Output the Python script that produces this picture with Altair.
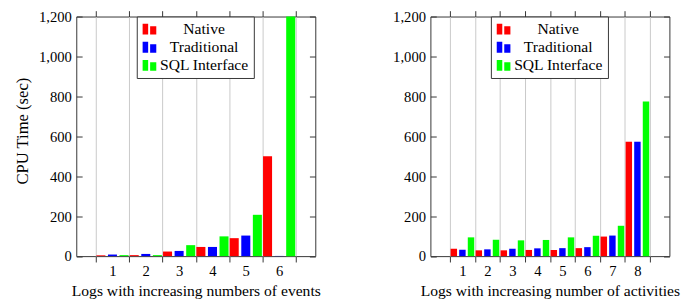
import altair as alt
import pandas as pd

FONT = "Liberation Serif"

series = ["Native", "Traditional", "SQL Interface"]
colors = ["#ff0000", "#0000ff", "#00ff00"]

events_logs = ["1", "2", "3", "4", "5", "6"]
events_native = [4, 5, 23, 46, 90, 500]
events_traditional = [8, 11, 26, 46, 103, 1]
events_sql = [5, 5, 55, 99, 207, 1200]

act_logs = ["1", "2", "3", "4", "5", "6", "7", "8"]
act_native = [37, 29, 29, 31, 31, 40, 98, 573]
act_traditional = [32, 34, 37, 39, 40, 45, 103, 573]
act_sql = [94, 82, 79, 81, 94, 102, 152, 775]

y_ticks = [0, 200, 400, 600, 800, 1000, 1200]

LEGEND_SYMBOL = "M-1,-0.79H-0.19V0.79H-1Z M0.1,-0.45H1V0.79H0.1Z"


def long_df(logs, a, b, c):
    rows = []
    for i, lg in enumerate(logs):
        for s, vals in zip(series, [a, b, c]):
            rows.append({"log": lg, "series": s, "value": vals[i]})
    return pd.DataFrame(rows)


def panel(df, logs, xtitle, ytitle, pad_outer, off_pi, off_po):
    xscale = alt.Scale(domain=logs, paddingInner=0, paddingOuter=pad_outer)
    yscale = alt.Scale(domain=[0, 1200], nice=False, clamp=True)
    yaxis_kw = dict(orient="left", values=y_ticks, format=",d", offset=-6, tickSize=6,
                    domain=False, grid=False, labelPadding=5, titlePadding=7,
                    titleFontSize=17)
    if ytitle:
        yaxis_kw["title"] = ytitle
        yaxis_kw["titleY"] = 117
    else:
        yaxis_kw["title"] = None
    bars = alt.Chart(df).mark_bar().encode(
        x=alt.X("log:N", sort=logs, scale=xscale,
                axis=alt.Axis(orient="bottom", title=xtitle, tickBand="extent", grid=True,
                              gridColor="#c8c8c8", gridWidth=1, domain=False, tickSize=6,
                              labelAngle=0, labelPadding=2, titlePadding=4,
                              titleFontSize=16)),
        xOffset=alt.XOffset("series:N", sort=series,
                            scale=alt.Scale(domain=series, paddingInner=off_pi, paddingOuter=off_po)),
        y=alt.Y("value:Q", scale=yscale, axis=alt.Axis(**yaxis_kw)),
        color=alt.Color("series:N", sort=series,
                        scale=alt.Scale(domain=series, range=colors),
                        legend=alt.Legend(title=None, orient="none", legendX=62, legendY=0,
                                          direction="vertical", fillColor="white",
                                          strokeColor="#333", padding=5,
                                          symbolType=LEGEND_SYMBOL, symbolSize=196,
                                          symbolStrokeWidth=0, labelFont=FONT,
                                          labelFontSize=16, labelColor="black",
                                          labelAlign="center", labelOffset=48,
                                          rowPadding=2.5)),
    )
    frame = alt.Chart(df).mark_bar(opacity=0).encode(
        x=alt.X("log:N", sort=logs,
                axis=alt.Axis(orient="top", title=None, labels=False, tickBand="extent",
                              grid=False, domain=False, tickSize=6)),
        y=alt.Y("value:Q",
                axis=alt.Axis(orient="right", values=y_ticks, labels=False, title=None,
                              offset=-6, tickSize=6, domain=False, grid=False)),
    )
    return alt.layer(bars, frame).resolve_axis(x="independent", y="independent").properties(
        width=245, height=245.6)


left = panel(long_df(events_logs, events_native, events_traditional, events_sql),
             events_logs, "Logs with increasing numbers of events", "CPU Time (sec)",
             0.585, 0.22, 0.05)
right = panel(long_df(act_logs, act_native, act_traditional, act_sql),
              act_logs, "Logs with increasing number of activities", None,
              0.78, 0.25, 0.08)

chart = alt.hconcat(left, right, spacing=72).resolve_scale(
    x="independent", y="independent", color="independent", xOffset="independent"
).resolve_legend(color="independent").properties(
    padding={"left": 5, "top": -3, "right": 5, "bottom": 5}
).configure_view(stroke="#333", strokeWidth=1).configure_axis(
    labelFont=FONT, titleFont=FONT, labelFontSize=15, titleFontSize=16,
    labelColor="black", titleColor="black", tickColor="#333", titleFontWeight="normal"
)

chart.save("out.html", embed_options={"renderer": "svg", "actions": False})
